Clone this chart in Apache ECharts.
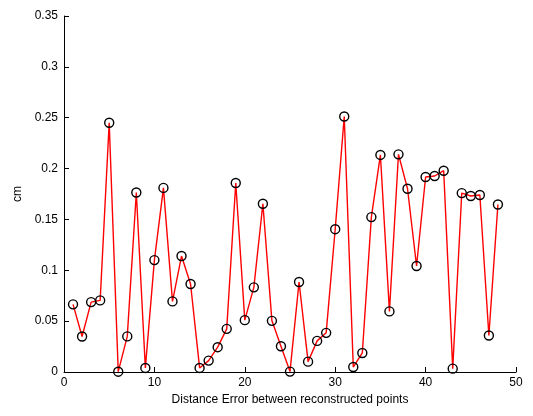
<!DOCTYPE html>
<html>
<head>
<meta charset="utf-8">
<script src="https://cdn.jsdelivr.net/npm/echarts@6/dist/echarts.min.js"></script>
<style>
  html, body { margin: 0; padding: 0; background: #fff; }
  #chart { width: 533px; height: 416px; }
</style>
</head>
<body>
<div id="chart"></div>
<script>
// point index 1..48
const pointIndex = [];
for (let i = 1; i <= 48; i++) pointIndex.push(i);

const distanceError = [
  0.0665, 0.0349, 0.0687, 0.0704, 0.245, 0.0003, 0.035, 0.1765, 0.004, 0.110,
  0.181, 0.0694, 0.114, 0.0865, 0.004, 0.0112, 0.0244, 0.0424, 0.1858, 0.051,
  0.0832, 0.1654, 0.0503, 0.0253, 0.0004, 0.0885, 0.0102, 0.0306, 0.0385, 0.1404,
  0.2512, 0.0049, 0.0187, 0.1523, 0.2134, 0.0596, 0.214, 0.1802, 0.1042, 0.1917,
  0.1927, 0.1979, 0.0033, 0.1759, 0.173, 0.174, 0.0359, 0.1647
];

const chart = echarts.init(document.getElementById("chart"));
const font = "Liberation Sans, Arial, sans-serif";

chart.setOption({
  backgroundColor: "#fff",
  animation: false,
  grid: {
    left: 64,
    right: 17,
    top: 16,
    bottom: 44,
  },
  xAxis: {
    type: "value",
    min: 0,
    max: 50,
    interval: 10,
    name: "Distance Error between reconstructed points",
    nameLocation: "middle",
    nameGap: 21,
    nameTextStyle: { color: "#000", fontSize: 12, fontFamily: font },
    axisLine: { lineStyle: { color: "#000", width: 1 } },
    axisTick: { inside: true, length: 5, lineStyle: { color: "#000" } },
    axisLabel: { color: "#000", fontSize: 12, fontFamily: font, margin: 5 },
    splitLine: { show: false },
  },
  yAxis: {
    type: "value",
    min: 0,
    max: 0.35,
    interval: 0.05,
    name: "cm",
    nameLocation: "middle",
    nameGap: 40,
    nameRotate: 90,
    nameTextStyle: { color: "#000", fontSize: 12, fontFamily: font },
    axisLine: { show: true, lineStyle: { color: "#000", width: 1 } },
    axisTick: { show: true, inside: true, length: 5, lineStyle: { color: "#000" } },
    axisLabel: { color: "#000", fontSize: 12, fontFamily: font, margin: 6 },
    splitLine: { show: false },
  },
  series: [
    {
      type: "line",
      data: pointIndex.map((x, i) => [x, distanceError[i]]),
      lineStyle: { color: "#ff0000", width: 1.4 },
      symbol: "circle",
      symbolSize: 9,
      itemStyle: { color: "rgba(255,255,255,0)", borderColor: "#000", borderWidth: 1.4 },
      z: 3,
    },
  ],
});
</script>
</body>
</html>
